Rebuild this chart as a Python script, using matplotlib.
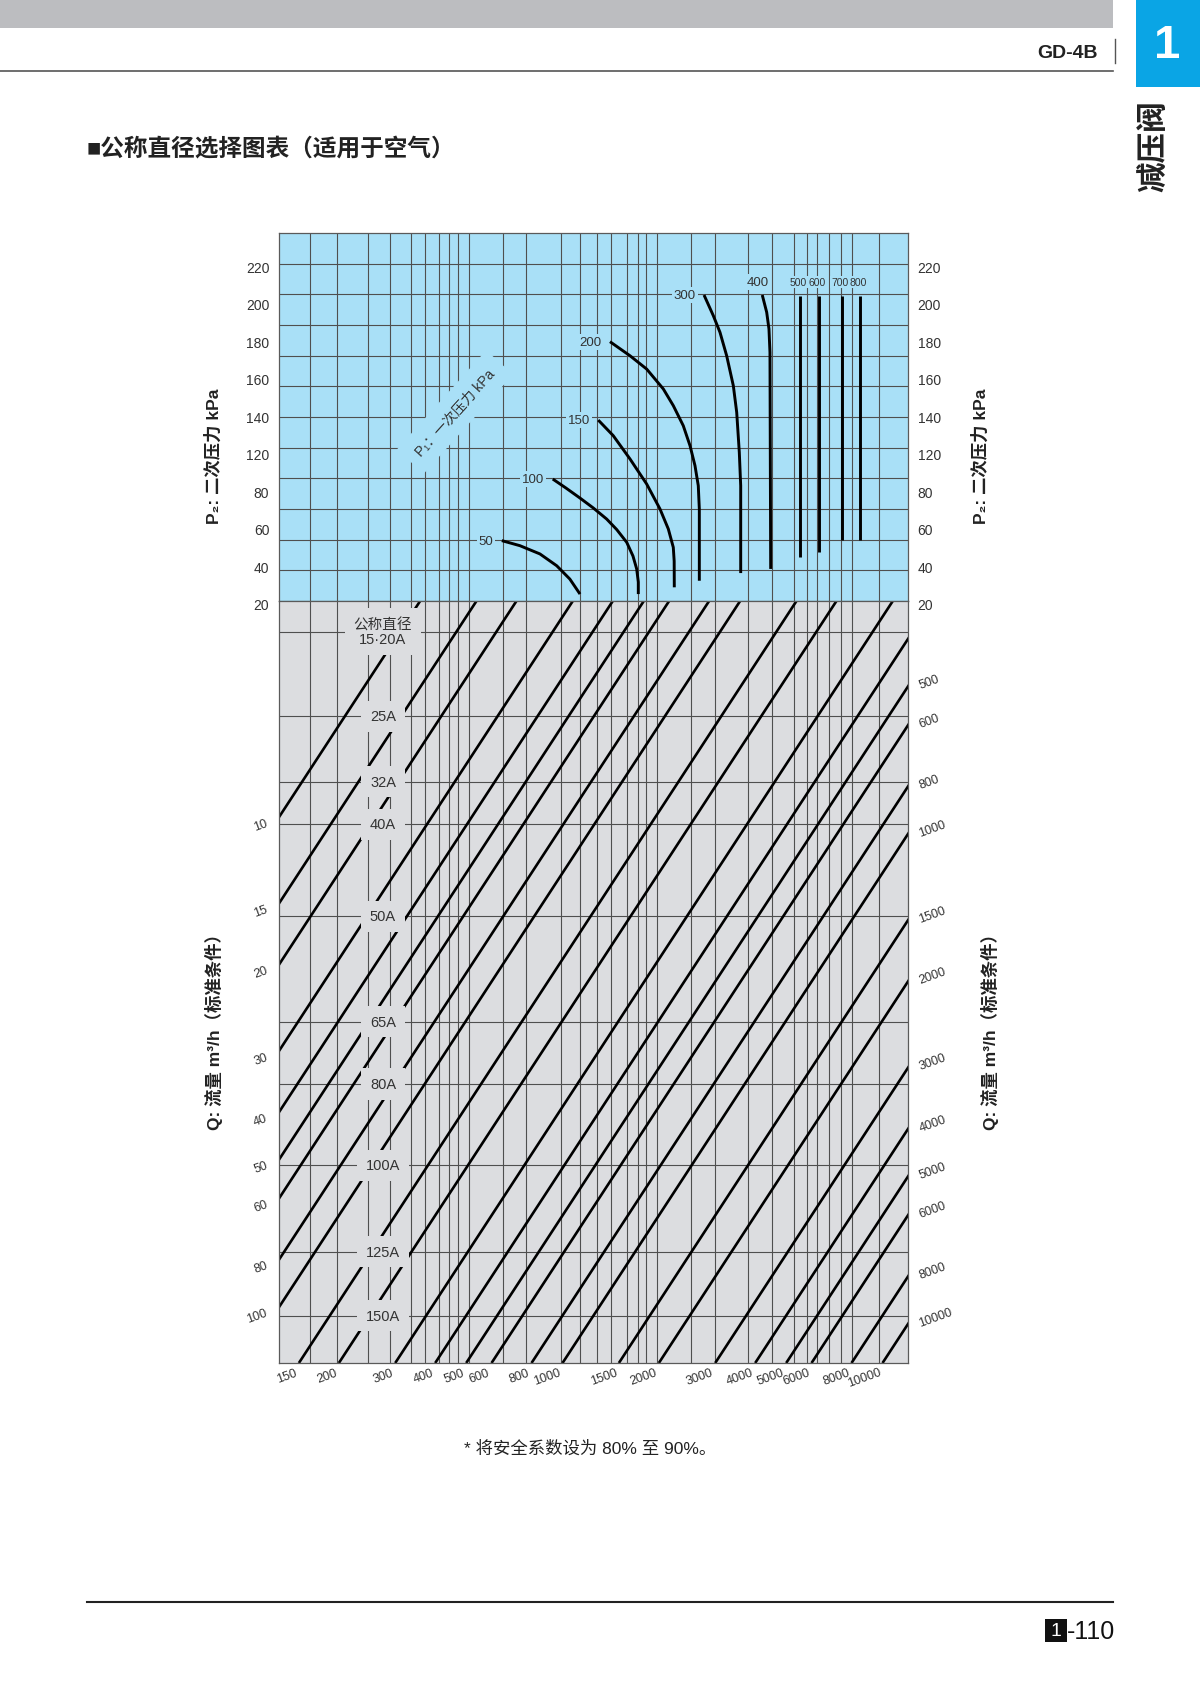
import numpy as np
import matplotlib
matplotlib.use("Agg")
import matplotlib.pyplot as plt
import matplotlib.transforms as mtransforms
from matplotlib.patches import Rectangle
from matplotlib.lines import Line2D
from matplotlib.collections import LineCollection
from matplotlib.ticker import NullLocator

plt.rcParams['font.family'] = ['Liberation Sans', 'Noto Sans CJK SC', 'DejaVu Sans']

# ---- data --------------------------------------------------------------
# common x scale (log): flow value where a diagonal meets the bottom edge
X_RANGE = [130, 12012]
GRID_X = [162, 198, 246, 288, 335, 371, 412, 442, 470, 511, 650, 771, 987,
          1132, 1284, 1414, 1587, 1725, 1819, 1969, 2515, 2995, 3799, 4514,
          5290, 5794, 6226, 6818, 7401, 8011, 9727]

# upper part: secondary pressure P2 (kPa), ticks are evenly spaced on paper
P2_TICKS = [20, 40, 60, 80, 120, 140, 160, 180, 200, 220]

# P1 curves (x, P2)
C50_X = [646, 736, 850, 959, 1054, 1134]
C50_P2 = [52.2, 49.5, 45.1, 38.8, 31.7, 23.7]
C100_X = [932, 1025, 1134, 1248, 1374, 1477, 1587, 1660, 1705, 1725, 1725]
C100_P2 = [90.1, 80.5, 74.9, 69.6, 63.7, 58.1, 51.3, 44.0, 37.1, 30.1, 23.7]
C150_X = [1293, 1440, 1625, 1832, 2016, 2141, 2219, 2233, 2235]
C150_P2 = [136.5, 128.2, 111.5, 84.8, 69.1, 58.4, 48.6, 41.3, 27.3]
C200_X = [1407, 1625, 1832, 2065, 2219, 2384, 2503, 2594, 2656, 2676, 2676]
C200_P2 = [178.3, 170.8, 163.7, 153.1, 144.2, 133.5, 122.8, 104.3, 83.0, 69.1, 30.8]
C300_X = [2768, 2959, 3105, 3258, 3418, 3502, 3568, 3604, 3604]
C300_P2 = [203.2, 192.2, 183.3, 170.8, 154.8, 140.6, 118.6, 83.0, 34.9]
C400_X = [4209, 4345, 4417, 4449, 4472]
C400_P2 = [203.2, 194.0, 185.1, 172.6, 37.1]
CURVE_P1 = [50, 100, 150, 200, 300, 400]

# P1 straight lines
VERT_P1 = [500, 600, 700, 800]
VERT_X = [5521, 6331, 7453, 8500]
VERT_TOP = [202.5, 202.5, 202.5, 202.5]
VERT_BOTTOM = [43.3, 46.3, 52.7, 52.7]

# lower part: nominal diameter lines (relative flow coefficient, log)
CV_RANGE = [1.0, 0.02786]
DN_NAMES = ["公称直径\n15·20A", "25A", "32A", "40A", "50A", "65A", "80A",
            "100A", "125A", "150A"]
DN_CV = [0.0322, 0.0479, 0.0651, 0.0796, 0.1226, 0.2011, 0.2695, 0.395,
         0.5928, 0.8006]

# flow diagonals Q (m3/h)
Q_LEFT = [10, 15, 20, 30, 40, 50, 60, 80, 100]
Q_BOTTOM = [150, 200, 300, 400, 500, 600, 800, 1000, 1500, 2000, 3000,
            4000, 5000, 6000, 8000, 10000]
Q_RIGHT = [500, 600, 800, 1000, 1500, 2000, 3000, 4000, 5000, 6000, 8000,
           10000]

# ---- styles ----------------------------------------------------------------
BLUE = '#a9e0f7'
GREY = '#dcdde0'
GRID_C = '#4f4f4f'
TXT = '#333333'

W, H = 1200, 1699


def fx(px):
    return px / W


def fy(py):
    return 1 - py / H


# P2 axis: even spacing between listed ticks (the printed scale skips 100)
P2_SCALE_VALS = [0] + P2_TICKS + [260]
P2_SCALE_IDX = [-1] + list(range(len(P2_TICKS))) + [11]


def p2_fwd(v):
    return np.interp(v, P2_SCALE_VALS, P2_SCALE_IDX)


def p2_inv(i):
    return np.interp(i, P2_SCALE_IDX, P2_SCALE_VALS)


fig = plt.figure(figsize=(12, 16.99), dpi=100)

# page header
fig.add_artist(Rectangle((0, fy(29)), fx(1113), 29 / H, color='#bcbdc0', lw=0))
fig.add_artist(Line2D([0, fx(1113)], [fy(72), fy(72)], color='#555555', lw=1.2))
fig.text(fx(1098), fy(53), "GD-4B", ha='right', va='center', fontsize=14,
         fontweight='bold', color='#222222')
fig.add_artist(Line2D([fx(1115), fx(1115)], [fy(40), fy(64)], color='#555555', lw=1))
fig.add_artist(Rectangle((fx(1136), fy(88)), 64 / W, 88 / H, color='#0aa5e5', lw=0))
fig.text(fx(1167), fy(46), "1", ha='center', va='center', fontsize=34,
         fontweight='bold', color='white')
fig.text(fx(1154), fy(146), "减压阀", ha='center', va='center', rotation=90,
         fontsize=22, fontweight='bold', color='#222222')
fig.text(fx(87), fy(149), "■公称直径选择图表（适用于空气）", ha='left', va='center',
         fontsize=17, fontweight='bold', color='#222222')

# axes
ax_top = fig.add_axes([fx(279), fy(602), (908 - 279) / W, (602 - 234) / H])
ax_bot = fig.add_axes([fx(279), fy(1364), (908 - 279) / W, (1364 - 602) / H])

for ax, bg in ((ax_top, BLUE), (ax_bot, GREY)):
    ax.set_facecolor(bg)
    ax.set_xscale('log')
    ax.set_xlim(X_RANGE)
    ax.xaxis.set_minor_locator(NullLocator())
    ax.set_xticks([])
    for sp in ax.spines.values():
        sp.set_color('#5a5a5a')
        sp.set_linewidth(0.9)
    for x in GRID_X:
        ax.axvline(x, color=GRID_C, lw=0.8, zorder=1)

# ---- upper part ----------------------------------------------------------
ax_top.set_yscale('function', functions=(p2_fwd, p2_inv))
ax_top.set_ylim(20, p2_inv((602 - 234) / 37.5))
ax_top.set_yticks(P2_TICKS)
ax_top.set_yticklabels([str(v) for v in P2_TICKS])
ax_top.yaxis.set_minor_locator(NullLocator())
ax_top.tick_params(axis='y', which='both', length=0, labelleft=True,
                   labelright=True, pad=7, labelsize=10, labelcolor=TXT)
shift = mtransforms.ScaledTranslation(0, -3 / 100, fig.dpi_scale_trans)
for tk in ax_top.yaxis.get_major_ticks():
    tk.label1.set_transform(tk.label1.get_transform() + shift)
    tk.label2.set_transform(tk.label2.get_transform() + shift)

rows = np.arange(1, 12) / 12
ax_top.add_collection(LineCollection([[(0, r), (1, r)] for r in rows],
                                     transform=ax_top.transAxes,
                                     colors=GRID_C, linewidths=0.8, zorder=1),
                      autolim=False)

curves = [(C50_X, C50_P2), (C100_X, C100_P2), (C150_X, C150_P2),
          (C200_X, C200_P2), (C300_X, C300_P2), (C400_X, C400_P2)]
for p1, (xs, ps) in zip(CURVE_P1, curves):
    ax_top.plot(xs, ps, color='black', lw=2.1, solid_capstyle='butt',
                solid_joinstyle='round', zorder=3)
    if p1 == 400:
        ax_top.annotate(str(p1), (xs[0], ps[0]), xytext=(-3, 9.5),
                        textcoords='offset points', ha='center', va='center',
                        fontsize=9.5, color=TXT, zorder=4,
                        bbox=dict(boxstyle='square,pad=0.15', fc=BLUE, ec='none'))
    else:
        ax_top.annotate(str(p1), (xs[0], ps[0]), xytext=(-6, 0),
                        textcoords='offset points', ha='right', va='center',
                        fontsize=9.5, color=TXT, zorder=4,
                        bbox=dict(boxstyle='square,pad=0.15', fc=BLUE, ec='none'))

for p1, x, top, bot in zip(VERT_P1, VERT_X, VERT_TOP, VERT_BOTTOM):
    ax_top.plot([x, x], [top, bot], color='black', lw=2.1,
                solid_capstyle='butt', zorder=3)
    ax_top.annotate(str(p1), (x, top), xytext=(-1.5, 10.5),
                    textcoords='offset points', ha='center', va='center',
                    fontsize=7.5, color=TXT, zorder=4,
                    bbox=dict(boxstyle='square,pad=0.1', fc=BLUE, ec='none'))

ax_top.text(0.2798, 0.5136, "P₁：一次压力 kPa", transform=ax_top.transAxes,
            rotation=48, ha='center', va='center', fontsize=10, color=TXT,
            zorder=4, bbox=dict(boxstyle='square,pad=0.8', fc=BLUE, ec='none'))

# ---- lower part ----------------------------------------------------------
ax_bot.set_yscale('log')
ax_bot.set_ylim(CV_RANGE)
ax_bot.tick_params(axis='both', which='both', length=0, labelleft=False,
                   labelbottom=False)
ax_bot.set_yticks([])
ax_bot.set_yticks([], minor=True)

for cv in DN_CV:
    ax_bot.axhline(cv, color=GRID_C, lw=0.8, zorder=1)

cv_ends = np.array(CV_RANGE)
for q in Q_LEFT + Q_BOTTOM:
    ax_bot.plot(q / cv_ends, cv_ends, color='black', lw=1.9,
                solid_capstyle='butt', zorder=2)

blend = mtransforms.blended_transform_factory(ax_bot.transAxes, ax_bot.transData)
for name, cv in zip(DN_NAMES, DN_CV):
    ax_bot.text(0.1653, cv, name, transform=blend, ha='center', va='center',
                fontsize=10.5, color=TXT, zorder=4, linespacing=1.1,
                bbox=dict(boxstyle='square,pad=0.6', fc=GREY, ec='none'))

lab_kw = dict(textcoords='offset points', rotation=20, rotation_mode='anchor',
              fontsize=9, color=TXT, annotation_clip=False)
for q in Q_LEFT:
    ax_bot.annotate(str(q), (X_RANGE[0], q / X_RANGE[0]), xytext=(-8.5, -3.6),
                    ha='right', va='center', **lab_kw)
for q in Q_BOTTOM:
    ax_bot.annotate(str(q), (q, CV_RANGE[0]), xytext=(-1.5, -6.2),
                    ha='right', va='center', **lab_kw)
for q in Q_RIGHT:
    ax_bot.annotate(str(q), (X_RANGE[1], q / X_RANGE[1]), xytext=(8.3, 0.8),
                    ha='left', va='center', **lab_kw)

# axis titles
for xp in (213, 980):
    fig.text(fx(xp), fy(456), "P₂: 二次压力 kPa", rotation=90, ha='center',
             va='center', fontsize=12.5, fontweight='bold', color='#222222')
for xp in (214, 990):
    fig.text(fx(xp), fy(1028), "Q: 流量 m³/h（标准条件）", rotation=90,
             ha='center', va='center', fontsize=12.5, fontweight='bold',
             color='#222222')

# footnote and footer
fig.text(fx(590), fy(1449), "* 将安全系数设为 80% 至 90%。", ha='center',
         va='center', fontsize=12.5, color='#222222')
fig.add_artist(Line2D([fx(87), fx(1113)], [fy(1603), fy(1603)],
                      color='#222222', lw=1.5))
fig.add_artist(Rectangle((fx(1045), fy(1643)), 22 / W, 23 / H, color='#111111', lw=0))
fig.text(fx(1056), fy(1632), "1", ha='center', va='center', fontsize=14,
         color='white', family=['Liberation Sans Narrow', 'Liberation Sans'])
fig.text(fx(1067), fy(1632), "-110", ha='left', va='center', fontsize=18,
         color='#111111', family=['Liberation Sans Narrow', 'Liberation Sans'])

fig.savefig("out.png", dpi=100)
